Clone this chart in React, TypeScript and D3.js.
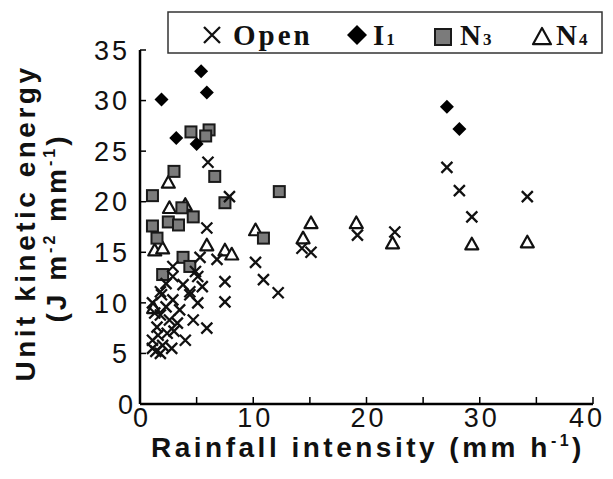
import React from 'react';
import * as d3 from 'd3';

// Rainfall intensity (mm/h) vs unit kinetic energy (J m-2 mm-1)
const openPoints: [number, number][] = [
  [6.0, 23.9], [7.9, 20.5], [5.9, 17.4], [6.8, 14.3], [5.3, 14.5], [2.9, 13.6],
  [5.1, 12.6], [7.5, 12.1], [2.9, 12.6], [3.8, 11.8], [1.8, 11.1], [4.4, 11.1],
  [1.1, 10.0], [1.9, 10.8], [2.9, 10.3], [5.1, 10.0], [7.5, 10.1], [4.4, 10.8],
  [1.8, 8.8], [3.3, 8.0], [4.7, 8.3], [5.9, 7.5], [1.5, 7.6], [2.4, 7.0],
  [4.0, 6.3], [1.1, 5.5], [1.8, 5.0], [1.4, 5.2], [1.1, 6.3], [2.8, 5.5],
  [1.3, 9.0], [2.3, 9.6], [2.6, 8.3], [1.6, 6.8], [2.0, 5.8], [3.5, 9.3],
  [3.0, 7.2], [2.3, 11.9], [4.9, 13.1], [5.5, 11.6],
  [10.2, 14.0], [10.9, 12.3], [12.2, 11.0], [14.3, 15.4], [15.1, 15.0],
  [19.2, 16.7], [22.5, 17.0], [27.1, 23.4], [28.2, 21.1], [29.3, 18.5], [34.2, 20.5],
];
const i1Points: [number, number][] = [
  [1.9, 30.1], [5.4, 32.9], [5.9, 30.8], [3.2, 26.3], [5.0, 25.7], [27.1, 29.4], [28.2, 27.2],
];
const n3Points: [number, number][] = [
  [4.5, 26.9], [6.1, 27.1], [5.8, 26.5], [3.0, 23.0], [6.6, 22.5], [1.1, 20.6],
  [7.5, 19.9], [3.7, 19.4], [4.7, 18.5], [2.5, 18.0], [3.4, 17.7], [1.1, 17.6],
  [1.5, 16.4], [3.8, 14.5], [4.4, 13.6], [2.0, 12.8], [12.3, 21.0], [10.9, 16.4],
];
const n4Points: [number, number][] = [
  [2.5, 21.9], [2.6, 19.4], [4.0, 19.7], [1.3, 15.2], [2.0, 15.4], [5.9, 15.7],
  [7.5, 15.2], [8.1, 14.8], [10.2, 17.2], [15.1, 17.9], [14.4, 16.4], [19.1, 17.9],
  [22.3, 15.9], [29.3, 15.8], [34.2, 16.0], [1.2, 9.5],
];

const xTicks = [0, 5, 10, 15, 20, 25, 30, 35, 40];
const xLabels = [0, 10, 20, 30, 40];
const yTicks = [0, 5, 10, 15, 20, 25, 30, 35];

const W = 613;
const H = 479;
const sans = '"Liberation Sans", Arial, sans-serif';
const serif = '"Liberation Serif", "Times New Roman", serif';

const x = d3.scaleLinear().domain([0, 40]).range([140, 593]);
const y = d3.scaleLinear().domain([0, 35]).range([404, 50]);

const Cross = ({ s }: { s: number }) => (
  <path d={`M${-s},${-s}L${s},${s}M${-s},${s}L${s},${-s}`} stroke="#111" strokeWidth={2.3} fill="none" />
);
const Diamond = ({ s }: { s: number }) => (
  <path d={`M0,${-s}L${s},0L0,${s}L${-s},0Z`} fill="#000" />
);
const Square = ({ s }: { s: number }) => (
  <rect x={-s} y={-s} width={2 * s} height={2 * s} fill="#7b7b7b" stroke="#1a1a1a" strokeWidth={2} />
);
const Triangle = ({ s }: { s: number }) => (
  <path d={`M0,${-s}L${s},${s * 0.8}L${-s},${s * 0.8}Z`} fill="#fff" stroke="#111" strokeWidth={2.2} strokeLinejoin="round" />
);

const App = () => {
  return (
    <svg width={W} height={H} style={{ position: 'absolute', left: 0, top: 0, background: '#fff' }}>
      {/* axes */}
      <line x1={x(0)} x2={x(40)} y1={y(0)} y2={y(0)} stroke="#000" strokeWidth={2.5} />
      <line x1={x(0)} x2={x(0)} y1={y(0)} y2={y(35)} stroke="#000" strokeWidth={2.5} />
      {xTicks.slice(1).map((t) => (
        <line key={t} x1={x(t)} x2={x(t)} y1={y(0)} y2={y(0) - 7} stroke="#000" strokeWidth={1.5} />
      ))}
      {yTicks.slice(1).map((t) => (
        <line key={t} x1={x(0)} x2={x(0) + 6} y1={y(t)} y2={y(t)} stroke="#000" strokeWidth={1.5} />
      ))}
      {xLabels.map((t, i) => (
        <text
          key={t}
          x={i === xLabels.length - 1 ? x(t) + 12 : x(t) + 2}
          y={y(0) + 23}
          textAnchor={i === xLabels.length - 1 ? 'end' : 'middle'}
          fontFamily={sans}
          fontSize={27}
          letterSpacing={3}
          fill="#111"
        >
          {t}
        </text>
      ))}
      {yTicks.map((t) => (
        <text
          key={t}
          x={t === 0 ? x(0) - 4 : x(0) - 10}
          y={y(t)}
          dy="0.36em"
          textAnchor="end"
          fontFamily={sans}
          fontSize={27}
          letterSpacing={3}
          fill="#111"
        >
          {t}
        </text>
      ))}

      {/* axis titles */}
      <text x={368} y={457} textAnchor="middle" fontFamily={sans} fontWeight="bold" fontSize={28} letterSpacing={3.5} fill="#111">
        Rainfall intensity (mm h<tspan fontSize={16} dy={-11}>-1</tspan><tspan dy={11}>)</tspan>
      </text>
      <text transform="translate(35,223) rotate(-90)" textAnchor="middle" fontFamily={sans} fontWeight="bold" fontSize={28} letterSpacing={3.5} fill="#111">
        Unit kinetic energy
      </text>
      <text transform="translate(66,228) rotate(-90)" textAnchor="middle" fontFamily={sans} fontWeight="bold" fontSize={28} letterSpacing={3} fill="#111">
        (J m<tspan fontSize={16} dy={-11}>-2</tspan><tspan dy={11}> mm</tspan><tspan fontSize={16} dy={-11}>-1</tspan><tspan dy={11}>)</tspan>
      </text>

      {/* points */}
      {n4Points.map(([a, b], i) => (
        <g key={`n4${i}`} transform={`translate(${x(a)},${y(b)})`}><Triangle s={6.5} /></g>
      ))}
      {n3Points.map(([a, b], i) => (
        <g key={`n3${i}`} transform={`translate(${x(a)},${y(b)})`}><Square s={5.5} /></g>
      ))}
      {openPoints.map(([a, b], i) => (
        <g key={`op${i}`} transform={`translate(${x(a)},${y(b)})`}><Cross s={5.5} /></g>
      ))}
      {i1Points.map(([a, b], i) => (
        <g key={`i1${i}`} transform={`translate(${x(a)},${y(b)})`}><Diamond s={7} /></g>
      ))}

      {/* legend */}
      <rect x={168} y={12} width={434} height={41} fill="#fff" stroke="#333" strokeWidth={1.5} />
      <g transform="translate(212,35)"><Cross s={8} /></g>
      <text x={233} y={45} fontFamily={serif} fontWeight="bold" fontSize={29} letterSpacing={3} fill="#111">Open</text>
      <g transform="translate(357,35)"><Diamond s={10} /></g>
      <text x={373} y={45} fontFamily={serif} fontWeight="bold" fontSize={29} fill="#111">
        I<tspan fontSize={17} dx={2}>1</tspan>
      </text>
      <g transform="translate(443,37)"><Square s={8} /></g>
      <text x={460} y={45} fontFamily={serif} fontWeight="bold" fontSize={29} fill="#111">
        N<tspan fontSize={17} dx={2}>3</tspan>
      </text>
      <g transform="translate(542,37)"><Triangle s={9} /></g>
      <text x={556} y={45} fontFamily={serif} fontWeight="bold" fontSize={29} fill="#111">
        N<tspan fontSize={17} dx={2}>4</tspan>
      </text>
    </svg>
  );
};

export default App;
